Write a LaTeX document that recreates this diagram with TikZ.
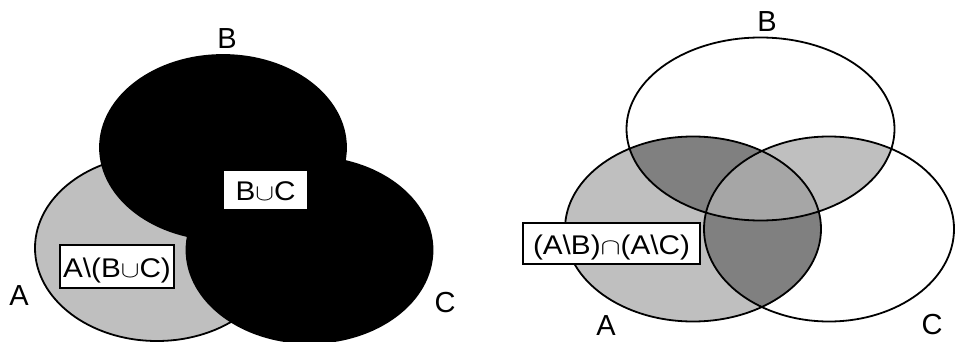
\documentclass[tikz,border=0pt]{standalone}
\usepackage{fontspec}
\usepackage{graphicx}
\setmainfont{Liberation Sans}
\newfontfamily\tagfont[FakeStretch=1.1]{Liberation Sans}

% set operators: thin strokes, wider than high
\newcommand{\cupsym}{{\fontsize{10}{12}\selectfont\scalebox{2.8}[2.3]{$\cup$}}}
\newcommand{\capsym}{{\fontsize{10}{12}\selectfont\scalebox{3}[2.3]{$\cap$}}}

\definecolor{lightshade}{gray}{0.75}
\definecolor{midshade}{gray}{0.65}
\definecolor{darkshade}{gray}{0.5}

% the three sets of the right diagram
\def\rsetA{(693,229) ellipse [x radius=128pt, y radius=92.5pt]}
\def\rsetB{(760.5,129) ellipse [x radius=134pt, y radius=91.5pt]}
\def\rsetC{(829,229) ellipse [x radius=125pt, y radius=92.5pt]}

\begin{document}
\begin{tikzpicture}[x=1pt, y=-1pt,
        venn/.style={draw, line width=1.8pt},
        setlabel/.style={inner sep=0pt, font=\fontsize{29}{35}\selectfont},
        tag/.style={rectangle, draw, fill=white, line width=1.4pt, inner sep=0pt,
            text height=21pt, text depth=0pt, font=\fontsize{27}{32}\tagfont}]
        \useasboundingbox (0,0) rectangle (955,342);

        % left: A \ (B u C)
        \filldraw[venn, fill=lightshade] (157,248) ellipse [x radius=122pt, y radius=93pt];
        \filldraw[venn, fill=black] (223,147.5) ellipse [x radius=123pt, y radius=92.5pt];
        \filldraw[venn, fill=black] (309.5,250) ellipse [x radius=123pt, y radius=93pt];

        \node (lA) [setlabel] at (19,296) {A};
        \node (lB) [setlabel] at (227,39) {B};
        \node (lC) [setlabel] at (445,303) {C};
        \node (unionL) [tag, minimum width=85pt, minimum height=40pt] at (265.5,190) {B\cupsym C};
        \node (diffL) [tag, minimum width=114pt, minimum height=43pt] at (117,266.5) {A\textbackslash(B\cupsym C)};

        % right: (A \ B) n (A \ C)
        \begin{scope}
            \clip \rsetB;
            \fill[lightshade] \rsetC;
        \end{scope}
        \fill[lightshade] \rsetA;
        \begin{scope}
            \clip \rsetA;
            \fill[darkshade] \rsetB;
            \fill[darkshade] \rsetC;
        \end{scope}
        \begin{scope}
            \clip \rsetA;
            \clip \rsetB;
            \fill[midshade] \rsetC;
        \end{scope}
        \draw[venn] \rsetA;
        \draw[venn] \rsetB;
        \draw[venn] \rsetC;

        \node (rA) [setlabel] at (606,326) {A};
        \node (rB) [setlabel] at (767,22) {B};
        \node (rC) [setlabel] at (932,325) {C};
        \node (diffR) [tag, minimum width=177pt, minimum height=41pt] at (611.5,243.5) {(A\textbackslash B)\capsym(A\textbackslash C)};
\end{tikzpicture}
\end{document}
